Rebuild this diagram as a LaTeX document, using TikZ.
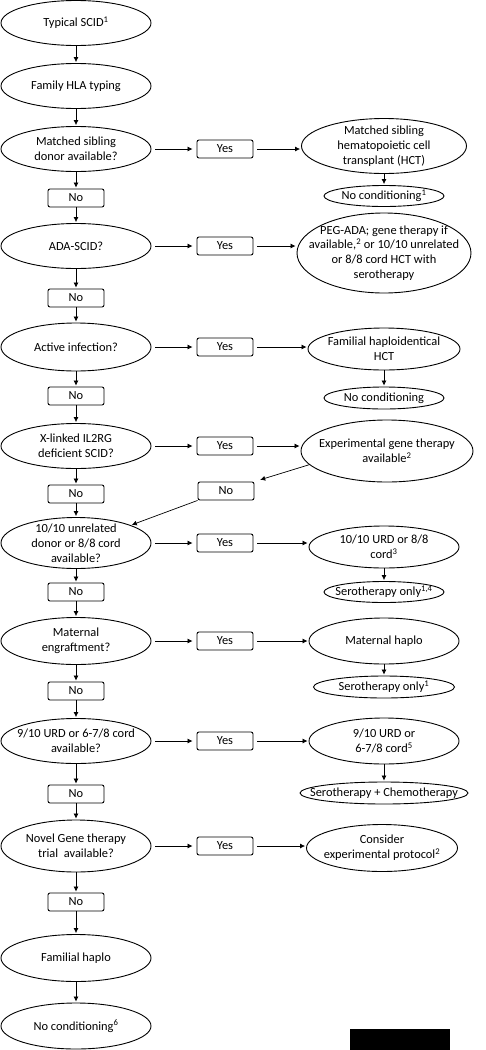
\documentclass[tikz,border=0pt]{standalone}
\usepackage{fontspec}
\setmainfont{Carlito}
\usetikzlibrary{positioning,shapes.geometric,arrows.meta}

\tikzset{
  ell/.style 2 args={ellipse, draw, line width=0.9pt, inner sep=-20pt, minimum width=#1, minimum height=#2, align=center},
  box/.style={rectangle, draw, line width=0.9pt, rounded corners=2pt, minimum width=56pt, minimum height=18pt, inner sep=0pt},
}

\begin{document}
\begin{tikzpicture}[->,>={Latex[length=5pt,width=5pt]},shorten >=1pt,x=1pt,y=1pt,on grid,line width=0.7pt,font=\fontsize{12.4}{14.8}\selectfont]

    \useasboundingbox (0,0) rectangle (485,-1050);

    % left column
    \node[ell={150pt}{45pt}] (1) at (76,-23) {Typical SCID\textsuperscript{1}};
    \node[ell={150pt}{45pt}] (2) [below=63pt of 1] {Family HLA typing};
    \node[ell={150pt}{45pt}] (3) [below=63pt of 2] {Matched sibling\\donor available?};
    \node[box] (n3) [below=49pt of 3] {No};
    \node[ell={150pt}{45pt}] (4) [below=48pt of n3] {ADA-SCID?};
    \node[box] (n4) [below=52pt of 4] {No};
    \node[ell={150pt}{48pt}] (5) [below=49pt of n4] {Active infection?};
    \node[box] (n5) [below=49pt of 5] {No};
    \node[ell={150pt}{45pt}] (6) [below=50pt of n5] {X-linked IL2RG\\deficient SCID?};
    \node[box] (n6) [below=48pt of 6] {No};
    \node[ell={150pt}{51pt}] (7) [below=49pt of n6] {10/10 unrelated\\donor or 8/8 cord\\available?};
    \node[box] (n7) [below=49pt of 7] {No};
    \node[ell={150pt}{47pt}] (8) [below=49pt of n7] {Maternal\\engraftment?};
    \node[box] (n8) [below=50pt of 8] {No};
    \node[ell={150pt}{45pt}] (9) [below=50pt of n8] {9/10 URD or 6-7/8 cord\\available?};
    \node[box] (n9) [below=53pt of 9] {No};
    \node[ell={150pt}{52pt}] (10) [below=52pt of n9] {Novel Gene therapy\\trial\ \ available?};
    \node[box] (n10) [below=56pt of 10] {No};
    \node[ell={150pt}{47pt}] (11) [below=56pt of n10] {Familial haplo};
    \node[ell={150pt}{46pt}] (12) [below=68pt of 11] {No conditioning\textsuperscript{6}};

    % yes boxes
    \foreach \i in {3,...,10}
        \node[box] (y\i) [right=149pt of \i] {Yes};

    % right column
    \node[ell={165pt}{55pt}] (r3) [right=308pt of 3, yshift=3pt] {Matched sibling\\hematopoietic cell\\transplant (HCT)};
    \node[ell={120pt}{21pt}] (c3) [below=50pt of r3] {No conditioning\textsuperscript{1}};
    \node[ell={174pt}{80pt}] (r4) [right=308pt of 4, yshift=-7pt] {PEG-ADA; gene therapy if\\available,\textsuperscript{2} or 10/10 unrelated\\or 8/8 cord HCT with\\serotherapy};
    \node[ell={152pt}{42pt}] (r5) [right=308pt of 5, yshift=-2pt] {Familial haploidentical\\HCT};
    \node[ell={120pt}{22pt}] (c5) [below=49pt of r5] {No conditioning};
    \node[ell={172pt}{62pt}] (r6) [right=311pt of 6, yshift=-5pt] {Experimental gene therapy\\available\textsuperscript{2}};
    \node[box] (nr) [right=150pt of n6, yshift=3pt] {No};
    \node[ell={150pt}{42pt}] (r7) [right=308pt of 7, yshift=-4pt] {10/10 URD or 8/8\\cord\textsuperscript{3}};
    \node[ell={120pt}{21pt}] (c7) [below=45pt of r7] {Serotherapy only\textsuperscript{1,4}};
    \node[ell={150pt}{46pt}] (r8) [right=308pt of 8] {Maternal haplo};
    \node[ell={141pt}{22pt}] (c8) [below=46pt of r8] {Serotherapy only\textsuperscript{1}};
    \node[ell={150pt}{46pt}] (r9) [right=308pt of 9] {9/10 URD or\\6-7/8 cord\textsuperscript{5}};
    \node[ell={168pt}{22pt}] (c9) [below=52pt of r9] {Serotherapy + Chemotherapy};
    \node[ell={151pt}{47pt}] (r10) [right=306pt of 10, yshift=-2pt] {Consider\\experimental protocol\textsuperscript{2}};

    \path
        (1) edge (2)
        (2) edge (3)
        (3) edge (n3)  (n3) edge (4)
        (4) edge (n4)  (n4) edge (5)
        (5) edge (n5)  (n5) edge (6)
        (6) edge (n6)  (n6) edge (7)
        (7) edge (n7)  (n7) edge (8)
        (8) edge (n8)  (n8) edge (9)
        (9) edge (n9)  (n9) edge (10)
        (10) edge (n10)  (n10) edge (11)
        (11) edge (12)

        (r3) edge (c3)
        (r5) edge (c5)
        (r7) edge (c7)
        (r8) edge (c8)
        (r9) edge (c9)

        (r6.190) edge[shorten >=6pt] (nr.north east)
        (nr.south west) edge (7.18)
        ;

    \foreach \i in {3,...,10}
        \path[shorten <=4pt, shorten >=1pt]
            (\i) edge[shorten >=4pt] (y\i)
            (y\i) edge (y\i -| r\i.west);

    % blacked out corner
    \fill[-] (350,-1029) rectangle (450,-1050);
\end{tikzpicture}
\end{document}
